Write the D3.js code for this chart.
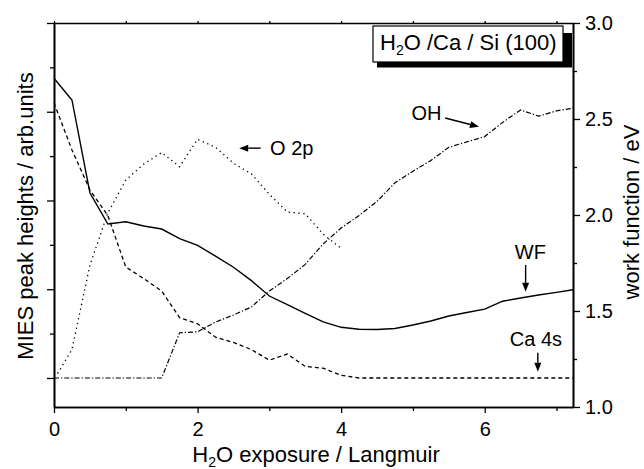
<!DOCTYPE html>
<html>
<head>
<meta charset="utf-8">
<title>H2O / Ca / Si (100)</title>
<script src="https://d3js.org/d3.v7.min.js"></script>
<style>
    body { margin: 0; background: #fff; }
    svg text { font-family: "Liberation Sans", Arial, sans-serif; fill: #000; }
</style>
</head>
<body>
<div id="chart"></div>
<script>
// exposure in Langmuir
var wfExposure = [0, 0.25, 0.5, 0.75, 1, 1.25, 1.5, 1.75, 2, 2.25, 2.5, 2.75, 3, 3.25, 3.5, 3.75, 4, 4.25, 4.5, 4.75, 5, 5.25, 5.5, 5.75, 6, 6.25, 6.5, 6.75, 7, 7.23];
var wfValues   = [2.712, 2.599, 2.116, 1.953, 1.965, 1.943, 1.927, 1.877, 1.842, 1.786, 1.728, 1.658, 1.578, 1.533, 1.488, 1.443, 1.415, 1.405, 1.404, 1.409, 1.427, 1.448, 1.474, 1.492, 1.510, 1.551, 1.568, 1.583, 1.597, 1.611];

var o2pExposure = [0.05, 0.25, 0.5, 0.75, 1, 1.25, 1.5, 1.75, 2, 2.25, 2.5, 2.75, 3, 3.25, 3.5, 3.75, 4];
var o2pValues   = [0.05, 0.32, 1.27, 1.86, 2.23, 2.41, 2.54, 2.38, 2.69, 2.60, 2.42, 2.30, 2.07, 1.87, 1.85, 1.62, 1.46];

var ca4sExposure = [0, 0.25, 0.5, 0.75, 1, 1.25, 1.5, 1.75, 2, 2.25, 2.5, 2.75, 3, 3.25, 3.5, 3.75, 4, 4.25, 7.23];
var ca4sValues   = [3.10, 2.57, 2.12, 1.83, 1.25, 1.12, 0.98, 0.68, 0.61, 0.46, 0.40, 0.32, 0.20, 0.27, 0.13, 0.11, 0.03, 0.0, 0.0];

var ohExposure = [0, 1.5, 1.75, 2, 2.25, 2.5, 2.75, 3, 3.25, 3.5, 3.75, 4, 4.25, 4.5, 4.75, 5, 5.25, 5.5, 5.75, 6, 6.25, 6.5, 6.75, 7, 7.23];
var ohValues   = [0, 0, 0.51, 0.52, 0.63, 0.71, 0.80, 0.98, 1.12, 1.28, 1.51, 1.69, 1.83, 1.99, 2.20, 2.33, 2.45, 2.60, 2.66, 2.72, 2.88, 3.02, 2.95, 3.01, 3.04];

var xMajorTicks = [0, 2, 4, 6];
var xMinorTicks = [1, 3, 5, 7];
var rightMajorTicks = [1.0, 1.5, 2.0, 2.5, 3.0];
var rightMinorTicks = [1.25, 1.75, 2.25, 2.75];
var leftMajorTicks = [0, 1, 2, 3, 4];
var leftMinorTicks = [0.5, 1.5, 2.5, 3.5];

var width = 644, height = 469;
var margin = {top: 23, right: 71, bottom: 62, left: 54};

var svg = d3.select("#chart").append("svg")
    .attr("width", width)
    .attr("height", height);

var x = d3.scaleLinear().domain([0, 7.23]).range([margin.left, width - margin.right]);
var yLeft = d3.scaleLinear().domain([-0.327, 4]).range([height - margin.bottom, margin.top]);
var yRight = d3.scaleLinear().domain([1, 3]).range([height - margin.bottom, margin.top]);

function zip(xs, ys) { return xs.map(function(d, i) { return [d, ys[i]]; }); }

// axes
function styleAxis(g) {
    g.selectAll(".domain").attr("stroke", "#000").attr("stroke-width", 1.6);
    g.selectAll(".tick line").attr("stroke", "#000").attr("stroke-width", 1.3);
    g.selectAll(".tick text").style("font-size", "20px").attr("fill", "#000");
}

svg.append("g")
    .attr("transform", "translate(0," + (height - margin.bottom) + ")")
    .call(d3.axisBottom(x).tickValues(xMajorTicks).tickSize(6).tickSizeOuter(0).tickPadding(9).tickFormat(d3.format("d")))
    .call(styleAxis);
svg.append("g")
    .attr("transform", "translate(0," + (height - margin.bottom) + ")")
    .call(d3.axisBottom(x).tickValues(xMinorTicks).tickSize(4).tickSizeOuter(0).tickFormat(""))
    .call(styleAxis);

svg.append("g")
    .attr("transform", "translate(0," + margin.top + ")")
    .call(d3.axisTop(x).tickValues(xMajorTicks.concat(xMinorTicks)).tickSize(2).tickSizeOuter(0).tickFormat(""))
    .call(styleAxis);

svg.append("g")
    .attr("transform", "translate(" + margin.left + ",0)")
    .call(d3.axisLeft(yLeft).tickValues(leftMajorTicks).tickSize(7).tickSizeOuter(0).tickFormat(""))
    .call(styleAxis);
svg.append("g")
    .attr("transform", "translate(" + margin.left + ",0)")
    .call(d3.axisLeft(yLeft).tickValues(leftMinorTicks).tickSize(4).tickSizeOuter(0).tickFormat(""))
    .call(styleAxis);

svg.append("g")
    .attr("transform", "translate(" + (width - margin.right) + ",0)")
    .call(d3.axisRight(yRight).tickValues(rightMajorTicks).tickSize(7).tickSizeOuter(0).tickPadding(5).tickFormat(d3.format(".1f")))
    .call(styleAxis);
svg.append("g")
    .attr("transform", "translate(" + (width - margin.right) + ",0)")
    .call(d3.axisRight(yRight).tickValues(rightMinorTicks).tickSize(4).tickSizeOuter(0).tickFormat(""))
    .call(styleAxis);

// axis titles
var bottomTitle = svg.append("text")
    .attr("x", 316).attr("y", 462)
    .attr("text-anchor", "middle")
    .style("font-size", "22px");
bottomTitle.append("tspan").text("H");
bottomTitle.append("tspan").attr("dy", 5).style("font-size", "14px").text("2");
bottomTitle.append("tspan").attr("dy", -5).text("O exposure / Langmuir");

svg.append("text")
    .attr("transform", "translate(33,216) rotate(-90)")
    .attr("text-anchor", "middle")
    .style("font-size", "22px")
    .text("MIES peak heights / arb.units");

svg.append("text")
    .attr("transform", "translate(639,212) rotate(-90)")
    .attr("text-anchor", "middle")
    .style("font-size", "22px")
    .text("work function / eV");

// curves
var lineLeft = d3.line().x(function(d) { return x(d[0]); }).y(function(d) { return yLeft(d[1]); });
var lineRight = d3.line().x(function(d) { return x(d[0]); }).y(function(d) { return yRight(d[1]); });

svg.append("path")
    .datum(zip(o2pExposure, o2pValues))
    .attr("fill", "none").attr("stroke", "#000").attr("stroke-width", 1.3)
    .attr("stroke-dasharray", "1.3,3.6")
    .attr("d", lineLeft);

svg.append("path")
    .datum(zip(ca4sExposure, ca4sValues))
    .attr("fill", "none").attr("stroke", "#000").attr("stroke-width", 1.3)
    .attr("stroke-dasharray", "4,3")
    .attr("d", lineLeft);

svg.append("path")
    .datum(zip(ohExposure, ohValues))
    .attr("fill", "none").attr("stroke", "#000").attr("stroke-width", 1.2)
    .attr("stroke-dasharray", "5,2,1.3,2")
    .attr("d", lineLeft);

svg.append("path")
    .datum(zip(wfExposure, wfValues))
    .attr("fill", "none").attr("stroke", "#000").attr("stroke-width", 1.4)
    .attr("d", lineRight);

// annotations with arrows
function arrow(x1, y1, x2, y2) {
    var a = Math.atan2(y2 - y1, x2 - x1), len = 9, w = 3.5;
    var bx = x2 - len * Math.cos(a), by = y2 - len * Math.sin(a);
    svg.append("line")
        .attr("x1", x1).attr("y1", y1).attr("x2", bx).attr("y2", by)
        .attr("stroke", "#000").attr("stroke-width", 1.4);
    svg.append("path")
        .attr("d", "M" + x2 + "," + y2 +
            "L" + (bx + w * Math.sin(a)) + "," + (by - w * Math.cos(a)) +
            "L" + (bx - w * Math.sin(a)) + "," + (by + w * Math.cos(a)) + "Z")
        .attr("fill", "#000");
}

function label(txt, px, py) {
    svg.append("text").attr("x", px).attr("y", py).style("font-size", "20px").text(txt);
}

label("O 2p", x(3.01), yLeft(2.51));
arrow(x(2.88), yLeft(2.59), x(2.58), yLeft(2.59));

label("OH", x(4.98), yLeft(2.91));
arrow(x(5.45), yLeft(2.93), x(5.92), yLeft(2.83));

label("WF", x(6.42), yRight(1.769));
arrow(x(6.57), yRight(1.740), x(6.57), yRight(1.600));

label("Ca 4s", x(6.35), yLeft(0.36));
arrow(x(6.74), yLeft(0.285), x(6.74), yLeft(0.071));

// title box with shadow
svg.append("rect")
    .attr("x", 377).attr("y", 33).attr("width", 195).attr("height", 34.5)
    .attr("fill", "#000");
svg.append("rect")
    .attr("x", 373).attr("y", 26).attr("width", 190).attr("height", 36)
    .attr("fill", "#fff").attr("stroke", "#000").attr("stroke-width", 1.2);
var boxText = svg.append("text")
    .attr("x", 380).attr("y", 50)
    .style("font-size", "22px");
boxText.append("tspan").text("H");
boxText.append("tspan").attr("dy", 5).style("font-size", "14px").text("2");
boxText.append("tspan").attr("dy", -5).text("O /Ca / Si (100)");
</script>
</body>
</html>
